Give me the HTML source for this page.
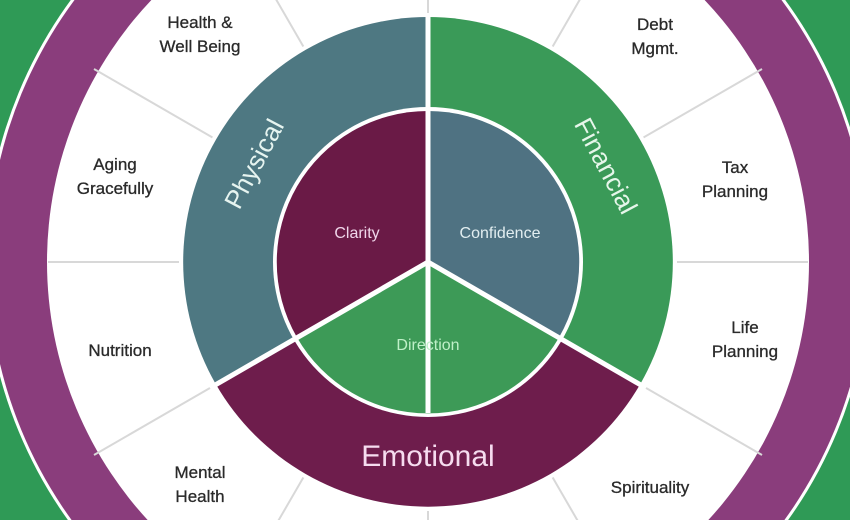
<!DOCTYPE html>
<html><head><meta charset="utf-8"><style>
html,body{margin:0;padding:0;width:850px;height:520px;overflow:hidden;background:#2f9a56}
svg{display:block}
text{font-family:"Liberation Sans",sans-serif}
</style></head><body>
<svg width="850" height="520" viewBox="0 0 850 520">
<defs><clipPath id="c"><rect width="850" height="520"/></clipPath></defs>
<g clip-path="url(#c)">
<rect width="850" height="520" fill="#2f9a56"/>
<circle cx="428" cy="262" r="443" fill="#fff"/>
<circle cx="428" cy="262" r="440" fill="#8a3d7c"/>
<circle cx="428" cy="262" r="381" fill="#fff"/>
<g stroke="#d8d8d8" stroke-width="2">
<line x1="428" y1="262" x2="428" y2="-140"/>
<line x1="428" y1="262" x2="229" y2="-82"/>
<line x1="428" y1="262" x2="94" y2="69"/>
<line x1="428" y1="262" x2="48" y2="262"/>
<line x1="428" y1="262" x2="94" y2="455"/>
<line x1="428" y1="262" x2="229" y2="606"/>
<line x1="428" y1="262" x2="428" y2="660"/>
<line x1="428" y1="262" x2="627" y2="606"/>
<line x1="428" y1="262" x2="762" y2="455"/>
<line x1="428" y1="262" x2="808" y2="262"/>
<line x1="428" y1="262" x2="762" y2="69"/>
<line x1="428" y1="262" x2="627" y2="-82"/>
</g>
<circle cx="428" cy="262" r="249" fill="#fff"/>
<path d="M428,262 L428,17 A245,245 0 0,0 216,384.5 Z" fill="#4e7882"/>
<path d="M428,262 L428,17 A245,245 0 0,1 640,384.5 Z" fill="#3a9a58"/>
<path d="M428,262 L216,384.5 A245,245 0 0,0 640,384.5 Z" fill="#6e1d4c"/>
<circle cx="428" cy="262" r="155" fill="#fff"/>
<path d="M428,262 L428,111 A151,151 0 0,0 297,337.5 Z" fill="#6a1a46"/>
<path d="M428,262 L428,111 A151,151 0 0,1 559,337.5 Z" fill="#4f7282"/>
<path d="M428,262 L297,337.5 A151,151 0 0,0 559,337.5 Z" fill="#3d9a57"/>
<g stroke="#fff" stroke-width="5">
<line x1="428" y1="262" x2="428" y2="14"/>
<line x1="428" y1="262" x2="210" y2="388"/>
<line x1="428" y1="262" x2="646" y2="388"/>
<line x1="428" y1="262" x2="428" y2="413"/>
</g>
<text x="0" y="0" transform="translate(262,168) rotate(-62)" font-size="26" fill="#e6f4f0" text-anchor="middle">Physical</text>
<text x="0" y="0" transform="translate(598,170) rotate(62)" font-size="26" fill="#e6f6ea" text-anchor="middle">Financial</text>
<text x="428" y="466" font-size="30" fill="#f6dcef" text-anchor="middle">Emotional</text>
<text x="357" y="238" font-size="16" fill="#f0d6ea" text-anchor="middle">Clarity</text>
<text x="500" y="238" font-size="16" fill="#e2eef0" text-anchor="middle">Confidence</text>
<text x="428" y="350" font-size="16" fill="#bff0c8" text-anchor="middle">Direction</text>
<g font-size="17" fill="#2a2a2a" text-anchor="middle" stroke="#2a2a2a" stroke-width="0.3">
<text x="200" y="28">Health &amp;</text><text x="200" y="52">Well Being</text>
<text x="115" y="170">Aging</text><text x="115" y="194">Gracefully</text>
<text x="120" y="356">Nutrition</text>
<text x="200" y="478">Mental</text><text x="200" y="502">Health</text>
<text x="650" y="493">Spirituality</text>
<text x="745" y="333">Life</text><text x="745" y="357">Planning</text>
<text x="735" y="173">Tax</text><text x="735" y="197">Planning</text>
<text x="655" y="30">Debt</text><text x="655" y="54">Mgmt.</text>
</g>
</g>
</svg>
</body></html>
